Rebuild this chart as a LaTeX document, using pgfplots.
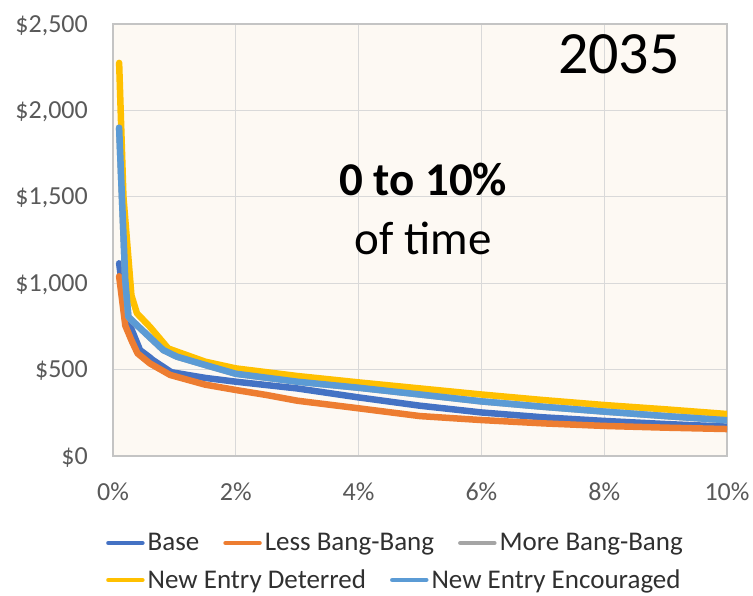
\documentclass[border=0pt]{standalone}
\usepackage{pgfplots}
\pgfplotsset{compat=1.18}
\usepackage{fontspec}
\setmainfont{Carlito}

\definecolor{cBase}{HTML}{4472C4}
\definecolor{cLess}{HTML}{ED7D31}
\definecolor{cMore}{HTML}{A5A5A5}
\definecolor{cDeter}{HTML}{FFC000}
\definecolor{cEncour}{HTML}{5B9BD5}
\definecolor{bgc}{HTML}{FDF9F3}
\definecolor{gridc}{HTML}{D9D9D9}
\definecolor{axc}{HTML}{C4C4C4}
\definecolor{tickc}{HTML}{595959}
\definecolor{legc}{HTML}{303030}

% price duration curves, top 10% of hours (x in %, y in $/MWh)
\pgfplotstableread{
x     y
0.1   1115
0.2   850
0.3   735
0.44  613
0.6   570
0.65  555
0.95  485
1.5   452
2     430
3     391
4     339
5     291
6     252
7     224
8     203
9     185
10    170
}\base

\pgfplotstableread{
x     y
0.1   1040
0.2   755
0.3   670
0.4   594
0.6   536
0.93  469
1.5   413
2     382
2.5   353
3     320
4     276
5     231
6     208
7     189
8     174
9     164
10    156
}\less

\pgfplotstableread{
x     y
0.1   1900
0.2   1020
0.25  806
0.33  777
0.82  613
1.04  575
1.5   527
2     476
3     430
4     395
5     356
6     316
7     285
8     257
9     231
10    207
}\more

\pgfplotstableread{
x     y
0.1   2275
0.17  1500
0.3   930
0.39  826
0.6   748
0.9   622
1.5   546
2     507
3     463
4     426
5     391
6     356
7     324
8     295
9     270
10    243
}\deterred

\pgfplotstableread{
x     y
0.1   1900
0.2   1020
0.25  806
0.33  777
0.82  613
1.04  575
1.5   527
2     476
3     430
4     395
5     356
6     316
7     285
8     257
9     231
10    207
}\encouraged

\pgfplotsset{
  curvelegend/.style={
    legend style={
      draw=none, fill=none, anchor=west,
      font=\fontsize{27bp}{31bp}\selectfont, text=legc,
      nodes={inner sep=0pt},
      /tikz/every odd column/.append style={column sep=3bp},
      /tikz/every even column/.append style={column sep=24bp},
    },
    legend cell align=left,
    legend image code/.code={%
      \draw[##1, line width=4.5bp, line cap=round] (2.5bp,0bp) -- (36.5bp,0bp);},
  },
}

\begin{document}
\begin{tikzpicture}
\path[use as bounding box] (-113bp,-140bp) rectangle (640bp,456bp);
\begin{axis}[
  scale only axis, width=614bp, height=432bp,
  xmin=0, xmax=10, ymin=0, ymax=2500,
  xtick={0,2,...,10}, ytick={0,500,...,2500},
  xticklabels={0\%,2\%,4\%,6\%,8\%,10\%},
  yticklabels={\$0,\$500,{\$1,000},{\$1,500},{\$2,000},{\$2,500}},
  grid=major, major grid style={draw=gridc, line width=1.2bp},
  axis background/.style={fill=bgc},
  axis line style={draw=axc, line width=1.6bp},
  tick style={draw=none}, major tick length=0pt,
  tick label style={font=\fontsize{26bp}{30bp}\selectfont, text=tickc, inner sep=0pt},
  xticklabel style={anchor=base, yshift=-44bp},
  yticklabel style={anchor=base east, xshift=-25bp, yshift=-8.2bp},
  curvelegend,
  legend columns=3,
  legend style={at={(axis description cs:-0.0163,-0.2014)}},
  every axis plot/.append style={line width=6.5bp, line join=round, line cap=round},
]
\addplot[cBase]   table[x=x,y=y] {\base};       \addlegendentry{Base}
\addplot[cLess]   table[x=x,y=y] {\less};       \addlegendentry{Less Bang-Bang}
\addplot[cMore]   table[x=x,y=y] {\more};       \addlegendentry{More Bang-Bang}
\addplot[cDeter, forget plot]   table[x=x,y=y] {\deterred};
\addplot[cEncour, forget plot]  table[x=x,y=y] {\encouraged};

\node[font=\fontsize{60bp}{66bp}\selectfont] at (axis cs:8.24,2326) {2035};
\node[font=\fontsize{47bp}{52bp}\selectfont\bfseries] at (axis cs:5.05,1603) {0 to 10\%};
\node[font=\fontsize{47bp}{52bp}\selectfont] at (axis cs:5.05,1262) {of time};
\end{axis}

% second legend row
\begin{axis}[
  scale only axis, width=614bp, height=432bp,
  xmin=0, xmax=1, ymin=0, ymax=1, hide axis,
  curvelegend,
  legend columns=2,
  legend style={at={(axis description cs:-0.0163,-0.2870)}},
]
\addlegendimage{cDeter, line width=6.5bp}
\addlegendentry{New Entry Deterred}
\addlegendimage{cEncour, line width=6.5bp}
\addlegendentry{New Entry Encouraged}
\end{axis}
\end{tikzpicture}
\end{document}
